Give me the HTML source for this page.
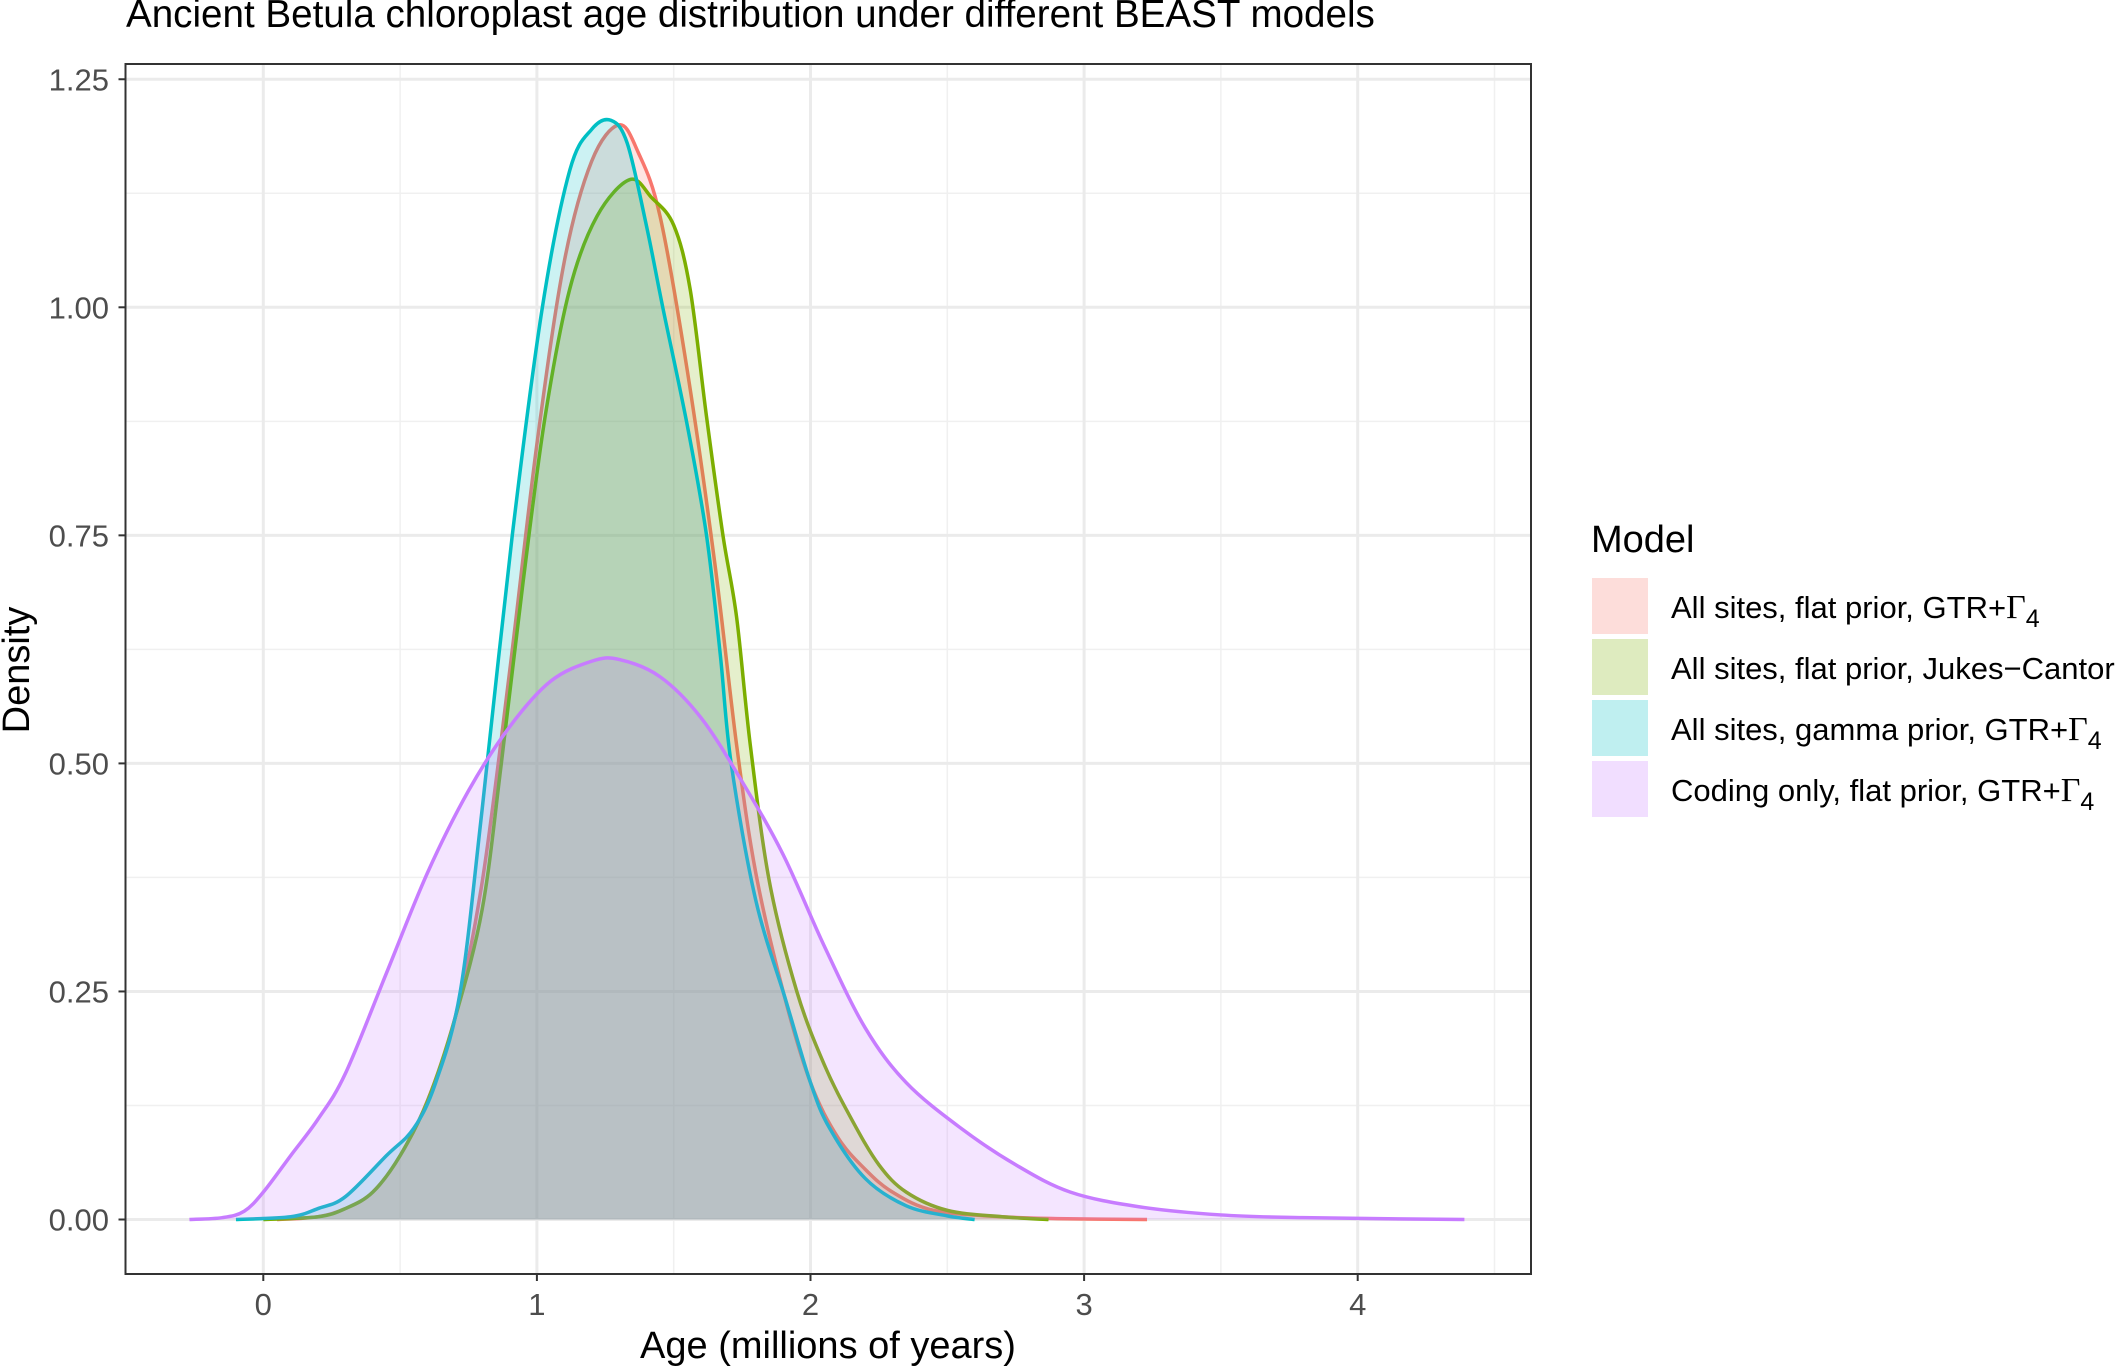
<!DOCTYPE html>
<html><head><meta charset="utf-8"><style>
html,body{margin:0;padding:0;background:#fff;overflow:hidden;}
svg{display:block;font-family:"Liberation Sans",Arial,sans-serif;}
</style></head><body>
<svg id="s" width="2122" height="1368" viewBox="0 0 2122 1368" xmlns="http://www.w3.org/2000/svg">
<rect width="2122" height="1368" fill="#fff"/>
<g id="grid"></g>
<g id="curves"></g>
<rect x="125.5" y="64" width="1405.5" height="1210" fill="none" stroke="#333" stroke-width="2"/>
<g id="ticks"></g>
<text x="126" y="27" font-size="38.6" fill="#000">Ancient Betula chloroplast age distribution under different BEAST models</text>
<text x="828" y="1358" font-size="38" text-anchor="middle" fill="#000">Age (millions of years)</text>
<text transform="translate(29,670) rotate(-90)" font-size="38" text-anchor="middle" fill="#000">Density</text>
<text x="1591" y="552" font-size="38" fill="#000">Model</text>
<rect x="1592" y="578" width="56" height="56" fill="#F8766D" fill-opacity="0.25"/>
<rect x="1592" y="639" width="56" height="56" fill="#7CAE00" fill-opacity="0.25"/>
<rect x="1592" y="700" width="56" height="56" fill="#00BFC4" fill-opacity="0.25"/>
<rect x="1592" y="761" width="56" height="56" fill="#C77CFF" fill-opacity="0.25"/>
<g font-size="31" fill="#000">
<text x="1671" y="618">All sites, flat prior, GTR+<tspan font-family="Liberation Serif,serif" font-size="34">Γ</tspan><tspan font-size="25" dy="9">4</tspan></text>
<text x="1671" y="679">All sites, flat prior, Jukes−Cantor</text>
<text x="1671" y="740">All sites, gamma prior, GTR+<tspan font-family="Liberation Serif,serif" font-size="34">Γ</tspan><tspan font-size="25" dy="9">4</tspan></text>
<text x="1671" y="801">Coding only, flat prior, GTR+<tspan font-family="Liberation Serif,serif" font-size="34">Γ</tspan><tspan font-size="25" dy="9">4</tspan></text>
</g>
</svg>
<script>
const NS="http://www.w3.org/2000/svg";
const X=x=>263.3+x*273.6, Y=y=>1219.5-y*912.2;
const L=125.5,R=1531,T=64,B=1274;
function el(p,t,a){const e=document.createElementNS(NS,t);for(const k in a)e.setAttribute(k,a[k]);p.appendChild(e);return e;}
const g=document.getElementById('grid'),tk=document.getElementById('ticks');
for(let v=0.5;v<4.6;v+=1)el(g,'line',{x1:X(v),x2:X(v),y1:T,y2:B,stroke:'#f0f0f0','stroke-width':1.5});
for(let v=0.125;v<1.26;v+=0.25)el(g,'line',{x1:L,x2:R,y1:Y(v),y2:Y(v),stroke:'#f0f0f0','stroke-width':1.5});
for(let v=0;v<=4;v++){el(g,'line',{x1:X(v),x2:X(v),y1:T,y2:B,stroke:'#ebebeb','stroke-width':3});
 el(tk,'line',{x1:X(v),x2:X(v),y1:B,y2:B+7,stroke:'#333','stroke-width':2});
 const t=el(tk,'text',{x:X(v),y:1315,'font-size':31,'text-anchor':'middle',fill:'#4d4d4d'});t.textContent=v;}
for(let i=0;i<=5;i++){const v=i*0.25;el(g,'line',{x1:L,x2:R,y1:Y(v),y2:Y(v),stroke:'#ebebeb','stroke-width':3});
 el(tk,'line',{x1:L-7,x2:L,y1:Y(v),y2:Y(v),stroke:'#333','stroke-width':2});
 const t=el(tk,'text',{x:109,y:Y(v)+11,'font-size':31,'text-anchor':'end',fill:'#4d4d4d'});t.textContent=v.toFixed(2);}
const data=[
['#F8766D',[[0.05,0],[0.2,0.003],[0.3,0.012],[0.4,0.03],[0.5,0.07],[0.6,0.13],[0.7,0.22],[0.8,0.37],[0.9,0.6],[1.0,0.85],[1.1,1.05],[1.2,1.16],[1.3,1.2],[1.37,1.17],[1.45,1.1],[1.55,0.93],[1.65,0.72],[1.73,0.52],[1.8,0.38],[1.9,0.25],[2.0,0.15],[2.1,0.09],[2.2,0.055],[2.3,0.03],[2.45,0.01],[2.7,0.003],[2.9,0.001],[3.23,0]]],
['#7CAE00',[[0,0],[0.2,0.003],[0.3,0.012],[0.4,0.03],[0.5,0.07],[0.6,0.13],[0.7,0.22],[0.8,0.34],[0.87,0.5],[0.95,0.7],[1.03,0.88],[1.12,1.02],[1.22,1.1],[1.34,1.14],[1.42,1.12],[1.5,1.09],[1.56,1.02],[1.62,0.88],[1.68,0.75],[1.73,0.66],[1.78,0.52],[1.85,0.37],[1.95,0.25],[2.05,0.17],[2.15,0.11],[2.25,0.06],[2.35,0.03],[2.5,0.01],[2.7,0.003],[2.87,0]]],
['#00BFC4',[[-0.1,0],[0.1,0.003],[0.2,0.012],[0.3,0.025],[0.45,0.07],[0.55,0.1],[0.63,0.15],[0.72,0.25],[0.8,0.45],[0.91,0.75],[1.02,1.0],[1.12,1.15],[1.2,1.195],[1.27,1.205],[1.33,1.18],[1.4,1.09],[1.46,1.0],[1.55,0.87],[1.62,0.75],[1.67,0.62],[1.71,0.5],[1.8,0.35],[1.91,0.24],[2.0,0.15],[2.07,0.1],[2.2,0.045],[2.35,0.015],[2.5,0.004],[2.6,0]]],
['#C77CFF',[[-0.27,0],[-0.15,0.002],[-0.07,0.009],[0.0,0.03],[0.1,0.07],[0.2,0.11],[0.3,0.16],[0.45,0.27],[0.6,0.38],[0.75,0.47],[0.9,0.54],[1.05,0.59],[1.2,0.612],[1.3,0.614],[1.45,0.595],[1.6,0.55],[1.75,0.48],[1.9,0.4],[2.05,0.3],[2.2,0.21],[2.35,0.15],[2.55,0.1],[2.75,0.06],[2.95,0.03],[3.2,0.014],[3.5,0.005],[3.8,0.002],[4.39,0]]]];
const cg=document.getElementById('curves');
function path(pts){const p=pts.map(([x,y])=>[X(x),Y(y)]);let d=`M${p[0][0]},${p[0][1]}`;
 for(let i=0;i<p.length-1;i++){const p0=p[i-1]||p[i],p1=p[i],p2=p[i+1],p3=p[i+2]||p2;
  d+=`C${p1[0]+(p2[0]-p0[0])/6},${p1[1]+(p2[1]-p0[1])/6} ${p2[0]-(p3[0]-p1[0])/6},${p2[1]-(p3[1]-p1[1])/6} ${p2[0]},${p2[1]}`;}
 return d;}
for(const [c,pts] of data){const d=path(pts);
 el(cg,'path',{d:d+'Z',fill:c,'fill-opacity':0.2,stroke:'none'});
 el(cg,'path',{d:d,fill:'none',stroke:c,'stroke-width':3.5});}
</script>
</body></html>
